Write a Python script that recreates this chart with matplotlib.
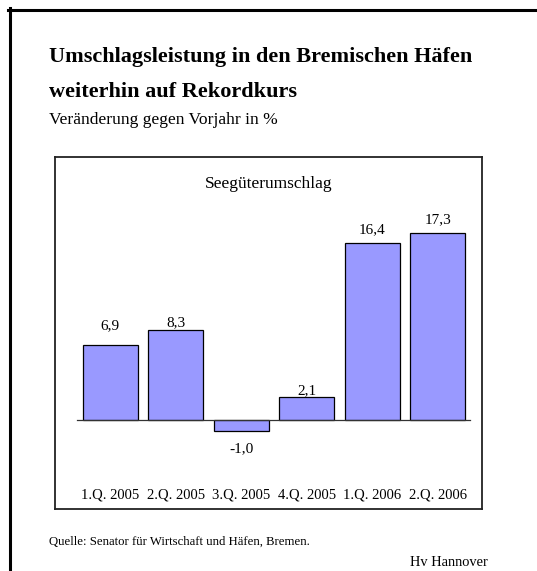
import matplotlib
matplotlib.use("Agg")
import matplotlib.pyplot as plt
from matplotlib.lines import Line2D

categories = ["1.Q. 2005", "2.Q. 2005", "3.Q. 2005", "4.Q. 2005", "1.Q. 2006", "2.Q. 2006"]
values = [6.9, 8.3, -1.0, 2.1, 16.4, 17.3]

title_lines = ["Umschlagsleistung in den Bremischen Häfen", "weiterhin auf Rekordkurs"]
subtitle = "Veränderung gegen Vorjahr in %"
panel_title = "Seegüterumschlag"
source = "Quelle: Senator für Wirtschaft und Häfen, Bremen."
credit = "Hv Hannover"

# label baseline offsets (pixels) from bar end
label_offsets = [16.7, 3.7, -21.3, 3.0, 10.0, 10.3]

W, H = 537, 571
DPI = 100
plt.rcParams['font.family'] = ['Liberation Serif', 'DejaVu Serif']

fig = plt.figure(figsize=(W / DPI, H / DPI), dpi=DPI)
fig.patch.set_facecolor("white")

def fx(px):
    return px / W

def fy(py):
    return 1 - py / H

# outer frame (top and left)
fig.add_artist(Line2D([fx(8), fx(W)], [fy(9.5), fy(9.5)], color="black", lw=2.2, transform=fig.transFigure))
fig.add_artist(Line2D([fx(9.5), fx(9.5)], [fy(8), fy(H)], color="black", lw=2.2, transform=fig.transFigure))

# title texts
fig.text(fx(49), fy(62), title_lines[0], fontsize=16, fontweight="bold", va="baseline", ha="left")
fig.text(fx(49), fy(97), title_lines[1], fontsize=16, fontweight="bold", va="baseline", ha="left")
fig.text(fx(49), fy(124), subtitle, fontsize=12.6, va="baseline", ha="left")
fig.text(fx(49), fy(545), source, fontsize=9.2, va="baseline", ha="left")
fig.text(fx(488), fy(566), credit, fontsize=10.4, va="baseline", ha="right")

# chart axes (inner box)
left, right, top, bottom = 55, 482, 157, 509
ax = fig.add_axes([fx(left), fy(bottom), (right - left) / W, (bottom - top) / H])
x = list(range(len(values)))
ax.bar(x, values, width=0.84, color="#9999FF", edgecolor="black", linewidth=0.9, zorder=2)
ax.plot([-0.5, len(values) - 0.5], [0, 0], color="#333333", lw=0.9, zorder=3)
ax.set_xlim(-0.843, 5.676)
ax.set_ylim(-8.24, 24.35)
ax.set_yticks([])
ax.set_xticks(x)
ax.set_xticklabels(categories, fontsize=10.5)
ax.tick_params(axis="x", length=0, pad=-15)
for s in ax.spines.values():
    s.set_linewidth(1.3)
    s.set_color("#222222")

for xi, v, off in zip(x, values, label_offsets):
    lbl = f"{v:.1f}".replace(".", ",")
    ax.annotate(lbl, (xi, v), xytext=(0, off), textcoords="offset pixels",
                ha="center", va="baseline", fontsize=11)

ax.text(0.5, (bottom - 188) / (bottom - top), panel_title, transform=ax.transAxes,
        ha="center", va="baseline", fontsize=12.5)

fig.savefig("out.png", dpi=DPI)
